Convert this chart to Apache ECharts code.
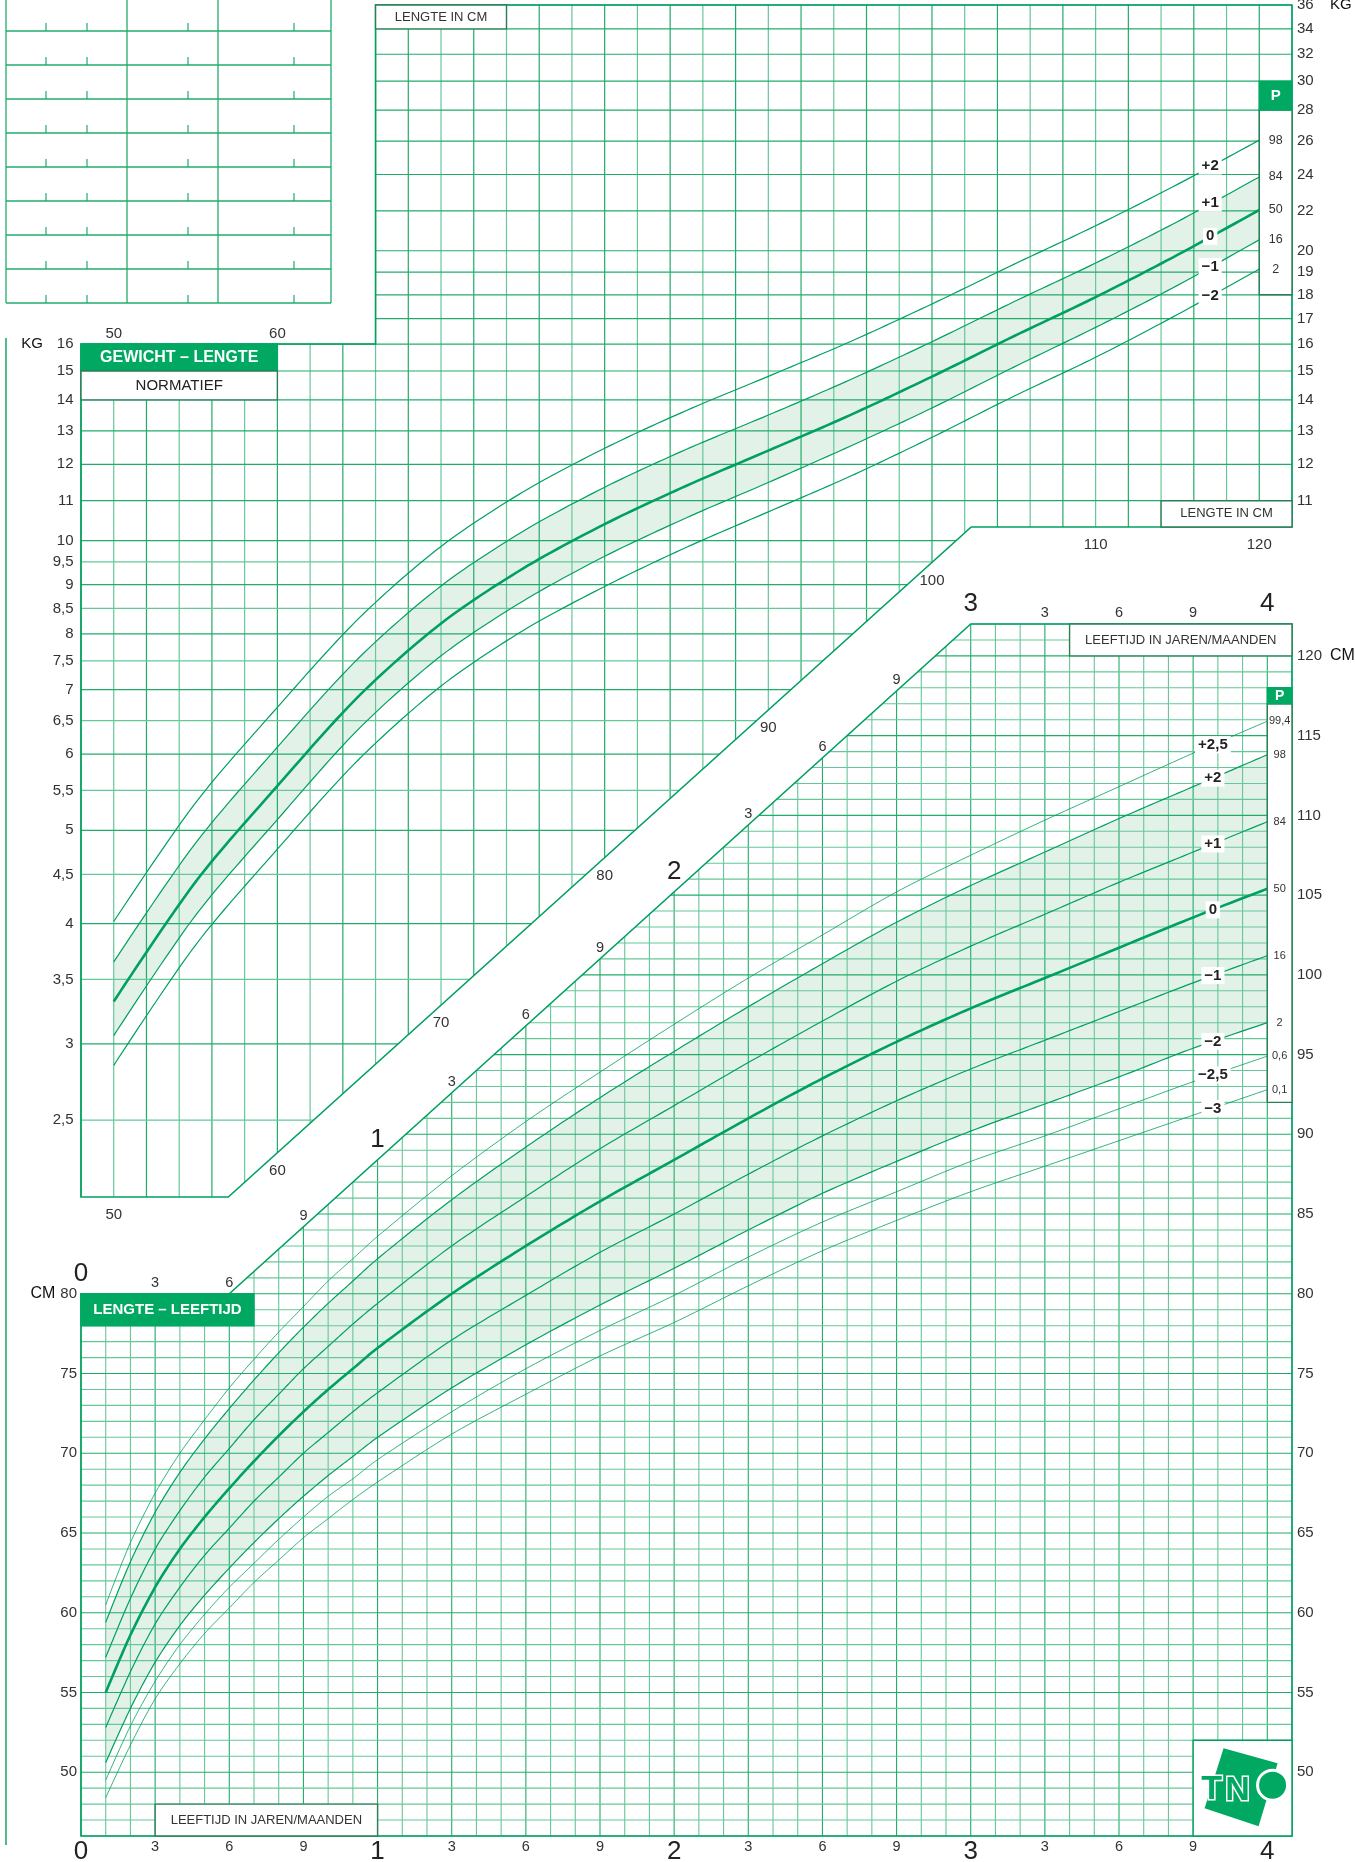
<!DOCTYPE html>
<html>
<head>
<meta charset="utf-8">
<script src="https://cdn.jsdelivr.net/npm/echarts@6/dist/echarts.min.js"></script>
<style>
html,body{margin:0;padding:0;background:#fff}
#main{width:1355px;height:1862px}
</style>
</head>
<body>
<div id="main"></div>
<script>
var FONT = '"Liberation Sans", Arial, Helvetica, sans-serif';
var GREEN = '#00a862';
var LINE = '#00a060';
var GRID_DARK = '#22ab6b';
var GRID_LIGHT = '#66c798';
var BAND = '#e3f2e8';
var TXT = '#333333';
var BOX_EDGE = '#2b7e56';

// gewicht naar lengte (kg bij lengte in cm)
var wLength = [50, 55, 60, 65, 70, 75, 80, 85, 90, 95, 100, 105, 110, 115, 120];
var wMin2  = [2.85, 3.80, 4.78, 5.93, 7.06, 8.06, 8.96, 9.84, 10.71, 11.66, 12.80, 14.12, 15.50, 17.17, 19.14];
var wMin1  = [3.06, 4.08, 5.13, 6.38, 7.59, 8.65, 9.63, 10.56, 11.49, 12.53, 13.73, 15.14, 16.65, 18.41, 20.53];
var wMed   = [3.32, 4.42, 5.56, 6.90, 8.20, 9.35, 10.40, 11.40, 12.40, 13.50, 14.80, 16.30, 17.90, 19.80, 22.05];
var wPlus1 = [3.65, 4.85, 6.10, 7.56, 8.97, 10.22, 11.36, 12.44, 13.50, 14.69, 16.09, 17.70, 19.42, 21.44, 23.86];
var wPlus2 = [4.02, 5.34, 6.71, 8.31, 9.86, 11.23, 12.47, 13.65, 14.81, 16.09, 17.61, 19.36, 21.23, 23.44, 26.06];

// lengte naar leeftijd (cm bij leeftijd in maanden)
var lAge    = [1, 2, 3, 4, 5, 6, 7, 8, 9, 10, 11, 12, 15, 18, 21, 24, 27, 30, 33, 36, 39, 42, 45, 48];
var lPlus25 = [60.5, 64.4, 67.5, 70.0, 72.1, 74.1, 75.9, 77.6, 79.2, 80.8, 82.2, 83.6, 87.4, 90.8, 93.9, 96.9, 99.8, 102.5, 105.2, 107.5, 109.7, 111.8, 113.9, 115.9];
var lPlus2  = [59.4, 63.2, 66.3, 68.8, 70.9, 72.8, 74.6, 76.3, 77.9, 79.4, 80.8, 82.2, 85.9, 89.2, 92.3, 95.2, 98.0, 100.7, 103.3, 105.6, 107.7, 109.8, 111.8, 113.8];
var lPlus1  = [57.2, 60.9, 64.0, 66.4, 68.5, 70.3, 72.1, 73.7, 75.3, 76.7, 78.1, 79.4, 83.0, 86.1, 89.1, 91.8, 94.5, 97.1, 99.6, 101.8, 103.8, 105.8, 107.7, 109.6];
var lMed    = [55.0, 58.6, 61.6, 64.0, 66.0, 67.8, 69.5, 71.1, 72.6, 74.0, 75.3, 76.6, 80.0, 83.0, 85.8, 88.4, 91.0, 93.5, 95.8, 97.9, 99.8, 101.7, 103.6, 105.4];
var lMin1   = [52.8, 56.3, 59.3, 61.6, 63.6, 65.3, 67.0, 68.5, 70.0, 71.3, 72.6, 73.8, 77.1, 79.9, 82.6, 85.0, 87.5, 89.9, 92.1, 94.1, 95.9, 97.7, 99.5, 101.2];
var lMin2   = [50.6, 54.0, 56.9, 59.2, 61.1, 62.8, 64.4, 65.9, 67.3, 68.6, 69.8, 71.0, 74.1, 76.8, 79.3, 81.6, 84.0, 86.3, 88.3, 90.2, 91.9, 93.6, 95.4, 97.0];
var lMin25  = [49.5, 52.9, 55.7, 58.0, 59.9, 61.6, 63.1, 64.6, 66.0, 67.3, 68.4, 69.6, 72.6, 75.3, 77.7, 79.9, 82.3, 84.5, 86.4, 88.3, 89.9, 91.6, 93.3, 94.9];
var lMin3   = [48.4, 51.7, 54.6, 56.8, 58.7, 60.3, 61.9, 63.3, 64.7, 65.9, 67.1, 68.2, 71.2, 73.7, 76.1, 78.2, 80.5, 82.7, 84.6, 86.4, 88.0, 89.6, 91.2, 92.8];

// tick labels
var wLeftTicks  = [2.5, 3, 3.5, 4, 4.5, 5, 5.5, 6, 6.5, 7, 7.5, 8, 8.5, 9, 9.5, 10, 11, 12, 13, 14, 15, 16];
var wRightTicks = [11, 12, 13, 14, 15, 16, 17, 18, 19, 20, 22, 24, 26, 28, 30, 32, 34, 36];
var wCmTicks    = [50, 60, 70, 80, 90, 100, 110, 120];
var lLeftTicks  = [50, 55, 60, 65, 70, 75, 80];
var lRightTicks = [50, 55, 60, 65, 70, 75, 80, 85, 90, 95, 100, 105, 110, 115, 120];
var ageTicks    = [0, 3, 6, 9, 12, 15, 18, 21, 24, 27, 30, 33, 36, 39, 42, 45, 48];

var wSdNames = ['\u22122', '\u22121', '0', '+1', '+2'];
var wPctNames = ['2', '16', '50', '84', '98'];
var lSdNames = ['\u22123', '\u22122,5', '\u22122', '\u22121', '0', '+1', '+2', '+2,5'];
var lPctNames = ['0,1', '0,6', '2', '16', '50', '84', '98', '99,4'];

var wSeriesVals = [wMin2, wMin1, wMed, wPlus1, wPlus2];
var wWidths = [1.2, 1.2, 2.6, 1.2, 1.2];
var lSeriesVals = [lMin3, lMin25, lMin2, lMin1, lMed, lPlus1, lPlus2, lPlus25];
var lWidths = [0.8, 0.8, 1.2, 1.2, 2.6, 1.2, 1.2, 0.8];

// layout of the two charts (in data units)
var wFrame = [[48, 16], [48, 2.08], [57, 2.08], [102.4, 10.33], [122, 10.33], [122, 36], [66, 36], [66, 16]];
var wCut = [[57, 2.08], [102.4, 10.33]];
var lFrame = [[0, 80], [0, 46], [49, 46], [49, 122], [36, 122], [6, 80]];
var lCut = [[6, 80], [36, 122]];

function fmt(v) { return String(v).replace('.', ','); }
function interp(xs, ys, x) {
  for (var i = 1; i < xs.length; i++) {
    if (x <= xs[i]) {
      var t = (x - xs[i - 1]) / (xs[i] - xs[i - 1]);
      return ys[i - 1] + t * (ys[i] - ys[i - 1]);
    }
  }
  return ys[ys.length - 1];
}
function segX(p, q, y) { return p[0] + (y - p[1]) * (q[0] - p[0]) / (q[1] - p[1]); }
function segY(p, q, x) { return p[1] + (x - p[0]) * (q[1] - p[1]) / (q[0] - p[0]); }

// smooth curve through pixel points (same control point rule as a smoothed line series)
function smoothPts(pts, s) {
  var n = pts.length, out = [pts[0]];
  function cps(i) {
    var p = pts[i - 1], c = pts[i], q = pts[i + 1];
    var vx = q[0] - p[0], vy = q[1] - p[1];
    var d0 = Math.hypot(c[0] - p[0], c[1] - p[1]), d1 = Math.hypot(q[0] - c[0], q[1] - c[1]);
    var r = d1 / (d0 + d1);
    return [[c[0] - vx * s * (1 - r), c[1] - vy * s * (1 - r)], [c[0] + vx * s * r, c[1] + vy * s * r]];
  }
  for (var i = 0; i < n - 1; i++) {
    var a = pts[i], b = pts[i + 1];
    var c0 = i === 0 ? a : cps(i)[1];
    var c1 = i + 1 === n - 1 ? b : cps(i + 1)[0];
    for (var k = 1; k <= 14; k++) {
      var t = k / 14, u = 1 - t;
      out.push([
        u * u * u * a[0] + 3 * u * u * t * c0[0] + 3 * u * t * t * c1[0] + t * t * t * b[0],
        u * u * u * a[1] + 3 * u * u * t * c0[1] + 3 * u * t * t * c1[1] + t * t * t * b[1]
      ]);
    }
  }
  return out;
}
function curvePx(api, xs, ys) {
  return smoothPts(xs.map(function (x, i) { return api.coord([x, ys[i]]); }), 0.3);
}

function lineEl(x1, y1, x2, y2, color, w) {
  return {type: 'line', shape: {x1: x1, y1: y1, x2: x2, y2: y2}, style: {stroke: color, lineWidth: w}};
}
function textEl(x, y, s, o) {
  var st = {text: s, fill: TXT, fontSize: 15, fontFamily: FONT, align: 'center', verticalAlign: 'middle'};
  for (var k in (o || {})) st[k] = o[k];
  return {type: 'text', x: x, y: y, style: st};
}
function boxEl(api, x0, y0, x1, y1, fill, stroke) {
  var p = api.coord([x0, y0]), q = api.coord([x1, y1]);
  return {type: 'rect',
    shape: {x: Math.min(p[0], q[0]), y: Math.min(p[1], q[1]), width: Math.abs(q[0] - p[0]), height: Math.abs(q[1] - p[1])},
    style: {fill: fill, stroke: stroke, lineWidth: 1.4}};
}
function boxMid(api, x0, y0, x1, y1) {
  var p = api.coord([x0, y0]), q = api.coord([x1, y1]);
  return [(p[0] + q[0]) / 2, (p[1] + q[1]) / 2];
}

// ---------- shaded bands and curves ----------
function bandRenderer(xs, lower, upper) {
  return function (params, api) {
    var lo = curvePx(api, xs, lower), up = curvePx(api, xs, upper);
    return {type: 'polygon', shape: {points: up.concat(lo.reverse())}, style: {fill: BAND}};
  };
}
function curvesRenderer(xs, sets, widths) {
  return function (params, api) {
    return {type: 'group', children: sets.map(function (vals, i) {
      return {type: 'polyline', shape: {points: curvePx(api, xs, vals)},
        style: {stroke: LINE, lineWidth: widths[i], fill: 'none', lineJoin: 'round'}};
    })};
  };
}

// ---------- grid lines, clipped to the stepped outlines ----------
var wGridItems = [];
for (var c = 48; c <= 122; c += 2) wGridItems.push({dir: 'v', v: c});
wLeftTicks.concat(wRightTicks.filter(function (v) { return wLeftTicks.indexOf(v) < 0; }))
  .forEach(function (v) { wGridItems.push({dir: 'h', v: v}); });

var lGridItems = [];
for (var m = 0; m <= 49; m++) lGridItems.push({dir: 'v', v: m});
for (var cm = 46; cm <= 122; cm++) lGridItems.push({dir: 'h', v: cm});

function renderWeightGrid(params, api) {
  var it = wGridItems[params.dataIndex];
  var a = api.coord(wCut[0]), b = api.coord(wCut[1]);
  var col = GRID_DARK;
  if (it.dir === 'v') {
    var px = api.coord([it.v, 10])[0];
    var top = api.coord([it.v, it.v >= 66 ? 36 : 16])[1];
    var bot = px <= a[0] ? a[1] : (px >= b[0] ? b[1] : segY(a, b, px));
    if (it.v % 4 !== 0) col = GRID_LIGHT;
    return lineEl(px, top, px, bot, col, 1.2);
  }
  var py = api.coord([60, it.v])[1];
  var left = api.coord([it.v > 16 ? 66 : 48, it.v])[0];
  var right = py > b[1] ? segX(a, b, py) : api.coord([122, it.v])[0];
  if (Math.round(it.v) !== it.v) col = GRID_LIGHT;
  return lineEl(left, py, right, py, col, 1.2);
}

function renderLengthGrid(params, api) {
  var it = lGridItems[params.dataIndex];
  var a = api.coord(lCut[0]), b = api.coord(lCut[1]);
  var col = GRID_DARK;
  if (it.dir === 'v') {
    var px = api.coord([it.v, 50])[0];
    var bot = api.coord([it.v, 46])[1];
    var top = px <= a[0] ? a[1] : (px >= b[0] ? b[1] : segY(a, b, px));
    if (it.v % 3 !== 0) col = GRID_LIGHT;
    return lineEl(px, top, px, bot, col, 1.1);
  }
  var py = api.coord([20, it.v])[1];
  var left = it.v <= 80 ? api.coord([0, it.v])[0] : segX(a, b, py);
  var right = api.coord([49, it.v])[0];
  if (it.v % 5 !== 0) col = GRID_LIGHT;
  return lineEl(left, py, right, py, col, 1.1);
}

// ---------- frames, boxes, labels ----------
function renderWeightDeco(params, api) {
  var ch = [];
  var a = api.coord(wCut[0]), b = api.coord(wCut[1]);
  ch.push({type: 'polygon', shape: {points: wFrame.map(function (p) { return api.coord(p); })},
    style: {fill: 'none', stroke: LINE, lineWidth: 1.6}});

  ch.push(boxEl(api, 48, 16, 60, 15, GREEN, GREEN));
  var m1 = boxMid(api, 48, 16, 60, 15);
  ch.push(textEl(m1[0], m1[1], 'GEWICHT \u2013 LENGTE', {fill: '#fff', fontWeight: 'bold', fontSize: 16}));
  ch.push(boxEl(api, 48, 15, 60, 14, '#fff', BOX_EDGE));
  var m2 = boxMid(api, 48, 15, 60, 14);
  ch.push(textEl(m2[0], m2[1], 'NORMATIEF', {fill: '#222'}));
  ch.push(boxEl(api, 66, 36, 74, 34, '#fff', BOX_EDGE));
  var m3 = boxMid(api, 66, 36, 74, 34);
  ch.push(textEl(m3[0], m3[1], 'LENGTE IN CM', {fontSize: 13}));
  ch.push(boxEl(api, 114, 11, 122, 10.33, '#fff', BOX_EDGE));
  var m4 = boxMid(api, 114, 11, 122, 10.33);
  ch.push(textEl(m4[0], m4[1], 'LENGTE IN CM', {fontSize: 13}));

  // percentile column
  ch.push(boxEl(api, 120, 28, 122, 18, '#fff', BOX_EDGE));
  ch.push(boxEl(api, 120, 30, 122, 28, GREEN, GREEN));
  var m5 = boxMid(api, 120, 30, 122, 28);
  ch.push(textEl(m5[0], m5[1], 'P', {fill: '#fff', fontWeight: 'bold', fontSize: 15}));
  wSeriesVals.forEach(function (vals, i) {
    var p = api.coord([121, vals[vals.length - 1]]);
    ch.push(textEl(p[0], p[1], wPctNames[i], {fontSize: 12.5}));
  });

  // y axis labels
  wLeftTicks.forEach(function (v) {
    var p = api.coord([48, v]);
    ch.push(textEl(p[0] - 7.5, p[1], fmt(v), {align: 'right'}));
  });
  var pk = api.coord([48, 16]);
  ch.push(textEl(32, pk[1], 'KG', {fill: '#111'}));
  wRightTicks.forEach(function (v) {
    var p = api.coord([122, v]);
    ch.push(textEl(p[0] + 5, p[1], fmt(v), {align: 'left'}));
  });
  var pk2 = api.coord([122, 36]);
  ch.push(textEl(pk2[0] + 38, pk2[1], 'KG', {align: 'left', fill: '#111'}));

  // x axis labels
  [50, 60].forEach(function (c) {
    var p = api.coord([c, 16]);
    ch.push(textEl(p[0], p[1] - 10, String(c)));
  });
  wCmTicks.forEach(function (c) {
    var px = api.coord([c, 10])[0];
    var by = px <= a[0] ? a[1] : (px >= b[0] ? b[1] : segY(a, b, px));
    ch.push(textEl(px, by + 18, String(c)));
  });

  // SD labels on the curves
  wSeriesVals.forEach(function (vals, i) {
    var p = api.coord([117, interp(wLength, vals, 117)]);
    ch.push(textEl(p[0], p[1], wSdNames[i], {fontWeight: 'bold', fill: '#222', backgroundColor: '#fff', padding: [1, 3]}));
  });
  return {type: 'group', children: ch};
}

function renderLengthDeco(params, api) {
  var ch = [];
  var a = api.coord(lCut[0]), b = api.coord(lCut[1]);
  ch.push({type: 'polygon', shape: {points: lFrame.map(function (p) { return api.coord(p); })},
    style: {fill: 'none', stroke: LINE, lineWidth: 1.6}});

  ch.push(boxEl(api, 0, 80, 7, 78, GREEN, GREEN));
  var m1 = boxMid(api, 0, 80, 7, 78);
  ch.push(textEl(m1[0], m1[1], 'LENGTE \u2013 LEEFTIJD', {fill: '#fff', fontWeight: 'bold', fontSize: 15}));
  ch.push(boxEl(api, 40, 122, 49, 120, '#fff', BOX_EDGE));
  var m2 = boxMid(api, 40, 122, 49, 120);
  ch.push(textEl(m2[0], m2[1], 'LEEFTIJD IN JAREN/MAANDEN', {fontSize: 13}));
  ch.push(boxEl(api, 3, 48, 12, 46, '#fff', BOX_EDGE));
  var m3 = boxMid(api, 3, 48, 12, 46);
  ch.push(textEl(m3[0], m3[1], 'LEEFTIJD IN JAREN/MAANDEN', {fontSize: 13}));

  // logo box
  ch.push(boxEl(api, 45, 52, 49, 46, '#fff', LINE));
  var lc = api.coord([47, 49]);
  ch.push({type: 'polygon', shape: {points: [[lc[0] - 19, lc[1] - 40], [lc[0] + 35, lc[1] - 25], [lc[0] + 16, lc[1] + 38], [lc[0] - 38, lc[1] + 20]]},
    style: {fill: GREEN}});
  ch.push(textEl(lc[0] - 31, lc[1] + 1, 'T', {fill: GREEN, fontWeight: 'bold', fontSize: 34, stroke: '#fff', lineWidth: 3}));
  ch.push(textEl(lc[0] - 5, lc[1] + 2, 'N', {fill: GREEN, fontWeight: 'bold', fontSize: 34, stroke: '#fff', lineWidth: 3}));
  ch.push({type: 'circle', shape: {cx: lc[0] + 30, cy: lc[1] - 3, r: 15}, style: {fill: GREEN, stroke: '#fff', lineWidth: 3}});

  // percentile column
  ch.push(boxEl(api, 48, 117, 49, 92, '#fff', BOX_EDGE));
  ch.push(boxEl(api, 48, 118, 49, 117, GREEN, GREEN));
  var m4 = boxMid(api, 48, 118, 49, 117);
  ch.push(textEl(m4[0], m4[1], 'P', {fill: '#fff', fontWeight: 'bold', fontSize: 14}));
  lSeriesVals.forEach(function (vals, i) {
    var p = api.coord([48.5, vals[vals.length - 1]]);
    ch.push(textEl(p[0], p[1], lPctNames[i], {fontSize: 11}));
  });

  // y axis labels
  lLeftTicks.forEach(function (v) {
    var p = api.coord([0, v]);
    ch.push(textEl(p[0] - 4, p[1], String(v), {align: 'right'}));
  });
  var p80 = api.coord([0, 80]);
  ch.push(textEl(43, p80[1], 'CM', {fill: '#111', fontSize: 16}));
  lRightTicks.forEach(function (v) {
    var p = api.coord([49, v]);
    ch.push(textEl(p[0] + 5, p[1], String(v), {align: 'left'}));
  });
  var p120 = api.coord([49, 120]);
  ch.push(textEl(p120[0] + 38, p120[1], 'CM', {align: 'left', fill: '#111', fontSize: 16}));

  // age labels, bottom and along the top edge
  ageTicks.forEach(function (m) {
    var year = m % 12 === 0;
    var s = year ? String(m / 12) : String(m % 12);
    var pb = api.coord([m, 46]);
    if (year) ch.push(textEl(pb[0], pb[1] + 3, s, {fontSize: 26, verticalAlign: 'top', fill: '#222'}));
    else ch.push(textEl(pb[0], pb[1] + 11, s, {fontSize: 14.5}));
    var px = pb[0];
    var ty = px <= a[0] ? a[1] : (px >= b[0] ? b[1] : segY(a, b, px));
    if (year) ch.push(textEl(px, ty - 20, s, {fontSize: 26, fill: '#222'}));
    else ch.push(textEl(px, ty - 11, s, {fontSize: 14.5}));
  });

  // SD labels on the curves
  lSeriesVals.forEach(function (vals, i) {
    var p = api.coord([45.8, interp(lAge, vals, 45.8)]);
    ch.push(textEl(p[0], p[1], lSdNames[i], {fontWeight: 'bold', fill: '#222', backgroundColor: '#fff', padding: [1, 3]}));
  });
  return {type: 'group', children: ch};
}

// ---------- series ----------
var series = [
  {type: 'custom', xAxisIndex: 0, yAxisIndex: 0, z: 1, silent: true, data: [[60, 10]],
    renderItem: bandRenderer(wLength, wMin1, wPlus1)},
  {type: 'custom', xAxisIndex: 1, yAxisIndex: 1, z: 1, silent: true, data: [[20, 80]],
    renderItem: bandRenderer(lAge, lMin2, lPlus2)},
  {type: 'custom', xAxisIndex: 0, yAxisIndex: 0, z: 2, silent: true, renderItem: renderWeightGrid,
    data: wGridItems.map(function (g) { return g.dir === 'v' ? [g.v, 10] : [60, g.v]; })},
  {type: 'custom', xAxisIndex: 1, yAxisIndex: 1, z: 2, silent: true, renderItem: renderLengthGrid,
    data: lGridItems.map(function (g) { return g.dir === 'v' ? [g.v, 50] : [20, g.v]; })},
  {type: 'custom', xAxisIndex: 0, yAxisIndex: 0, z: 3, silent: true, data: [[60, 10]],
    renderItem: curvesRenderer(wLength, wSeriesVals, wWidths)},
  {type: 'custom', xAxisIndex: 1, yAxisIndex: 1, z: 3, silent: true, data: [[20, 80]],
    renderItem: curvesRenderer(lAge, lSeriesVals, lWidths)},
  {type: 'custom', xAxisIndex: 0, yAxisIndex: 0, z: 5, silent: true, data: [[60, 10]], renderItem: renderWeightDeco},
  {type: 'custom', xAxisIndex: 1, yAxisIndex: 1, z: 5, silent: true, data: [[20, 80]], renderItem: renderLengthDeco}
];

// empty record table top left (decoration)
var tableCols = [6, 127, 218, 331];
var tableRows = [31, 65, 99, 133, 167, 201, 235, 269, 303];
var tableTicks = [46, 87, 188, 294];
var graphics = [];
tableCols.forEach(function (x) {
  graphics.push({type: 'line', shape: {x1: x, y1: 0, x2: x, y2: 303}, style: {stroke: GRID_DARK, lineWidth: 1.3}});
});
tableRows.forEach(function (y) {
  graphics.push({type: 'line', shape: {x1: 6, y1: y, x2: 331, y2: y}, style: {stroke: GRID_DARK, lineWidth: 1.3}});
  tableTicks.forEach(function (x) {
    graphics.push({type: 'line', shape: {x1: x, y1: y - 8, x2: x, y2: y}, style: {stroke: GRID_DARK, lineWidth: 1.2}});
  });
});
graphics.push({type: 'line', shape: {x1: 6, y1: 338, x2: 6, y2: 1845}, style: {stroke: GRID_DARK, lineWidth: 1.6}});

var chart = echarts.init(document.getElementById('main'), null, {renderer: 'canvas'});
chart.setOption({
  animation: false,
  backgroundColor: '#fff',
  grid: [
    {left: 81, right: 63, top: 5, bottom: 665},
    {left: 81, right: 63, top: 624, bottom: 26}
  ],
  xAxis: [
    {gridIndex: 0, type: 'value', min: 48, max: 122, show: false},
    {gridIndex: 1, type: 'value', min: 0, max: 49, show: false}
  ],
  yAxis: [
    {gridIndex: 0, type: 'log', min: 2.08, max: 36, show: false},
    {gridIndex: 1, type: 'value', min: 46, max: 122, show: false}
  ],
  graphic: {elements: graphics},
  series: series
});
</script>
</body>
</html>
